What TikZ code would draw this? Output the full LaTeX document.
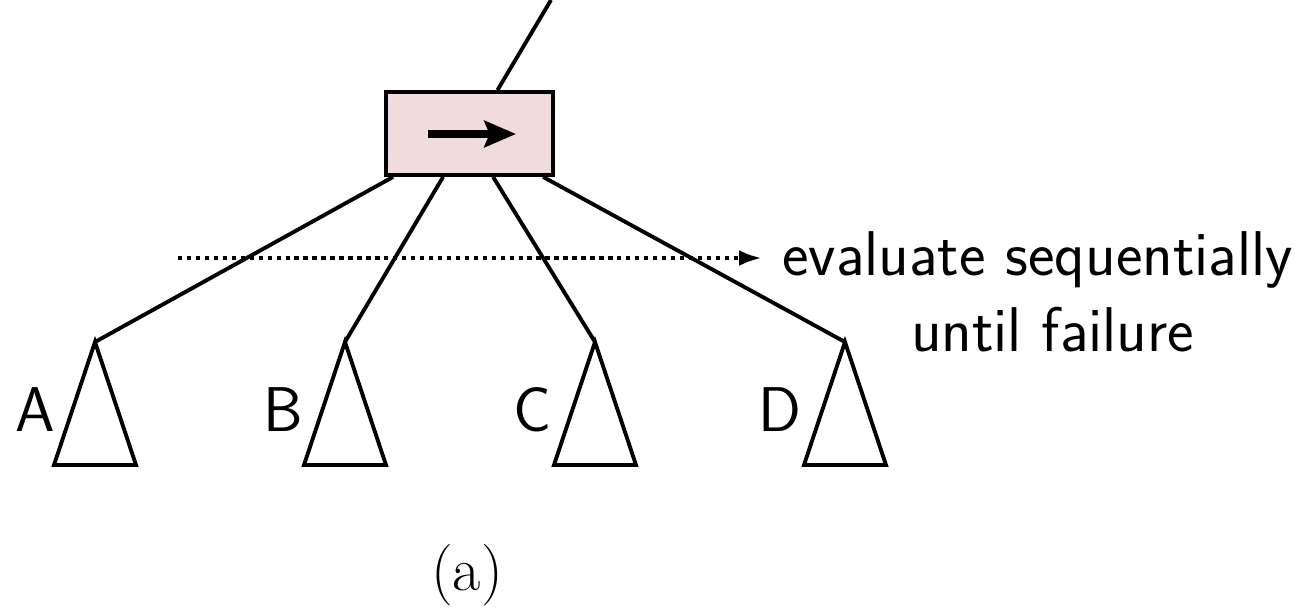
\documentclass[tikz,border=0pt]{standalone}
\usetikzlibrary{arrows.meta,calc}
\definecolor{boxpink}{RGB}{240,220,220}
\begin{document}
\begin{tikzpicture}[x=0.02cm,y=-0.02cm,
  edge/.style={line width=2.2pt},
  tri/.style={line width=2.2pt, line join=miter},
  lbl/.style={font=\sffamily\fontsize{36}{43}\selectfont, inner sep=0pt},
]
\useasboundingbox (0,0) rectangle (1312,610);
\node[draw, line width=2.2pt, fill=boxpink, minimum width=3.34cm, minimum height=1.66cm, inner sep=0pt] (seq) at (469.5,133.5) {};
\coordinate (top) at (551,0);
\draw[edge] ($(seq.north)+(28,0)$) -- (top);
\coordinate (ab) at (428,134);
\coordinate (ae) at (516,134);
\draw[line width=4.2pt, -{Stealth[length=18pt,width=15pt,inset=3pt]}] (ab) -- (ae);
% triangles
\foreach \n/\x in {A/95,B/345,C/595,D/845}{
  \coordinate (\n) at (\x,342);
  \draw[tri] (\n) -- (\x-41,465) -- (\x+41,465) -- cycle;
}
\draw[edge] ($(seq.south west)+(9,0)$) -- (A);
\draw[edge] ($(seq.south west)+(59,0)$) -- (B);
\draw[edge] ($(seq.south west)+(109,0)$) -- (C);
\draw[edge] ($(seq.south west)+(159,0)$) -- (D);
\node[lbl] (la) at (35,410) {A};
\node[lbl] (lb) at (283,410) {B};
\node[lbl] (lc) at (533,410) {C};
\node[lbl] (ld) at (780,410) {D};
\coordinate (ds) at (178,258);
\coordinate (de) at (762,258);
\node[lbl, anchor=west, align=center] (txt) at (782,292) {evaluate sequentially\\\hspace*{0.6cm}until failure};
\draw[line width=2.5pt, dash pattern=on 2.5pt off 2.6pt, -{Latex[length=13pt,width=9pt]}] (ds) -- (de);
\node[font=\fontsize{35}{42}\selectfont, inner sep=0pt] (cap) at (467,575) {(a)};
\end{tikzpicture}
\end{document}
